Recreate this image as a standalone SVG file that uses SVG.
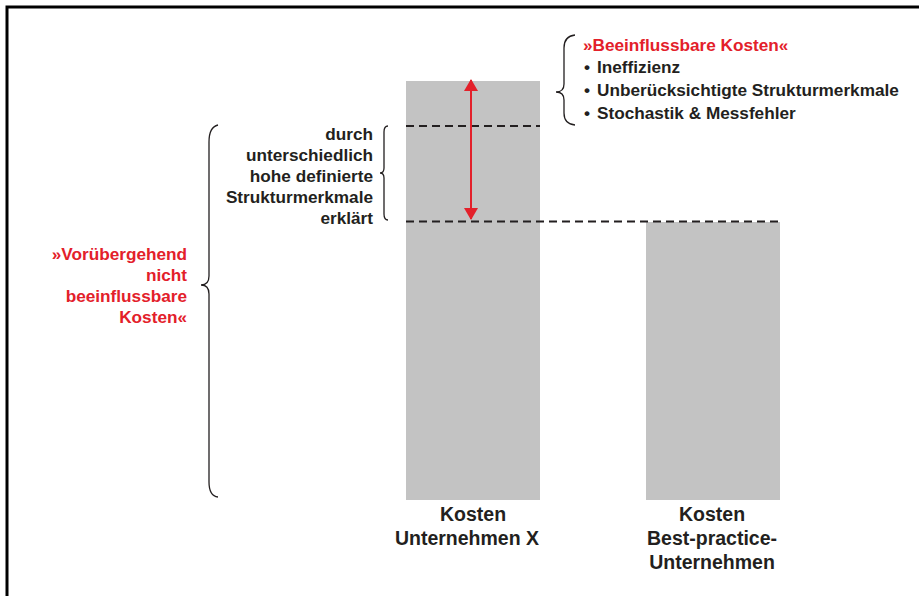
<svg xmlns="http://www.w3.org/2000/svg" width="919" height="596" viewBox="0 0 919 596">
<defs>
<style>
.t{font-family:"Liberation Sans",Arial,sans-serif;font-weight:bold;font-size:17.2px;fill:#231f20}
.r{fill:#e3202a}
.b{font-size:19.5px}
.bar{fill:#c3c3c3}
.br{fill:none;stroke:#231f20;stroke-width:1.3}
.dash{stroke:#231f20;stroke-width:2;stroke-dasharray:8 5;fill:none}
</style>
<marker id="ah" viewBox="0 0 12 14" refX="11" refY="7" markerWidth="12" markerHeight="14" markerUnits="userSpaceOnUse" orient="auto-start-reverse">
<path d="M0,0 L12,7 L0,14 Z" fill="#e3202a"/>
</marker>
</defs>
<rect width="919" height="596" fill="#fff"/>
<path d="M7,596 V7 H919" fill="none" stroke="#000" stroke-width="3"/>

<g id="bar-x">
<rect class="bar" x="406" y="81" width="134" height="419"/>
<text class="t b" text-anchor="middle" x="473" y="521">Kosten</text>
<text class="t b" text-anchor="middle" x="467" y="545">Unternehmen X</text>
</g>
<g id="bar-best">
<rect class="bar" x="646" y="222" width="134" height="278"/>
<text class="t b" text-anchor="middle" x="712" y="521">Kosten</text>
<text class="t b" text-anchor="middle" x="712" y="545">Best-practice-</text>
<text class="t b" text-anchor="middle" x="712" y="569">Unternehmen</text>
</g>

<g id="connectors">
<line class="dash" x1="406" y1="126" x2="540" y2="126"/>
<line class="dash" x1="406" y1="221.5" x2="780" y2="221.5"/>
<line x1="471" y1="80" x2="471" y2="219" stroke="#e3202a" stroke-width="2" marker-start="url(#ah)" marker-end="url(#ah)"/>
</g>

<g id="brace-beeinflussbar">
<path class="br" d="M575,35 Q564,36 564,48 V84 Q564,92 556,92 Q564,92 564,100 V113 Q564,124 575,125"/>
<text class="t r" x="583" y="51">»Beeinflussbare Kosten«</text>
<text class="t" x="584" y="73">•</text><text class="t" x="597" y="73">Ineffizienz</text>
<text class="t" x="584" y="96">•</text><text class="t" x="597" y="96">Unberücksichtigte Strukturmerkmale</text>
<text class="t" x="584" y="119">•</text><text class="t" x="597" y="119">Stochastik &amp; Messfehler</text>
</g>

<g id="brace-struktur">
<path class="br" d="M388,126 Q384,126 384,132 V168 Q384,173 380,173 Q384,173 384,178 V214 Q384,220 388,220"/>
<text class="t" text-anchor="end" x="373" y="140">durch</text>
<text class="t" text-anchor="end" x="373" y="161">unterschiedlich</text>
<text class="t" text-anchor="end" x="373" y="182">hohe definierte</text>
<text class="t" text-anchor="end" x="373" y="203">Strukturmerkmale</text>
<text class="t" text-anchor="end" x="373" y="224">erklärt</text>
</g>

<g id="brace-nicht-beeinflussbar">
<path class="br" d="M218,125 Q209,127 209,142 V276 Q209,285 201,285 Q209,285 209,294 V482 Q209,496 218,497"/>
<text class="t r" text-anchor="end" x="187" y="260">»Vorübergehend</text>
<text class="t r" text-anchor="end" x="187" y="281">nicht</text>
<text class="t r" text-anchor="end" x="187" y="302">beeinflussbare</text>
<text class="t r" text-anchor="end" x="187" y="323">Kosten«</text>
</g>
</svg>
